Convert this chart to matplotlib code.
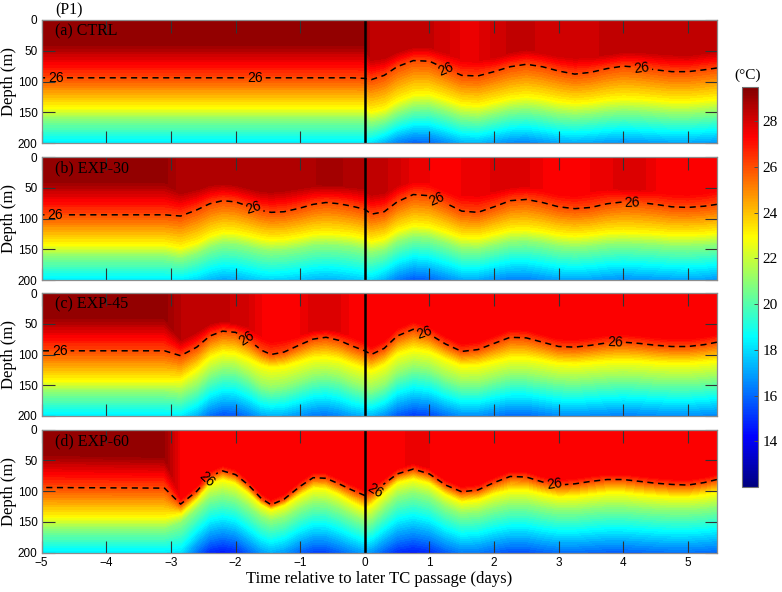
import numpy as np
import matplotlib
matplotlib.use("Agg")
import matplotlib.pyplot as plt
from matplotlib.colors import LinearSegmentedColormap, Normalize
from matplotlib.cm import ScalarMappable

# ---------------- data ----------------
# time nodes (days relative to later TC passage)
T = [-5.0, -3.1, -2.85, -2.6, -2.4, -2.2, -2.0, -1.8, -1.6, -1.45,
     -1.25, -1.0, -0.8, -0.6, -0.4, -0.2, 0.0, 0.1, 0.3, 0.5,
     0.75, 1.0, 1.25, 1.5, 1.75, 2.0, 2.25, 2.5, 2.75, 3.0,
     3.25, 3.5, 3.75, 4.0, 4.25, 4.5, 4.75, 5.0, 5.25, 5.45]

ISO_26 = 26.0     # dashed isotherm
ISO_23 = 23.0     # yellow isotherm
ISO_21 = 21.0     # green isotherm
BOTTOM = 200.0

# (a) CTRL
D26_A = [94, 94, 94, 94, 94, 94, 94, 94, 94, 94,
         94, 94, 94, 94, 94, 94, 95, 97, 90, 76,
         66, 67, 79, 90, 91, 84, 76, 72, 76, 83,
         88, 85, 79, 75, 77, 81, 84, 84, 81, 78]
D23_A = [141, 141, 141, 141, 141, 141, 141, 141, 141, 141,
         141, 141, 141, 141, 141, 141, 141, 148, 143, 130,
         120, 119, 127, 136, 138, 132, 126, 123, 126, 131,
         134, 132, 128, 126, 127, 129, 131, 131, 129, 127]
D21_A = [160, 160, 160, 160, 160, 160, 160, 160, 160, 160,
         160, 160, 160, 160, 160, 160, 160, 166, 161, 150,
         141, 140, 147, 156, 158, 152, 146, 144, 147, 152,
         154, 152, 149, 147, 148, 150, 152, 152, 150, 148]
T200_A = [18.2, 18.2, 18.2, 18.2, 18.2, 18.2, 18.2, 18.2, 18.2, 18.2,
          18.2, 18.2, 18.2, 18.2, 18.2, 18.2, 18.2, 18.0, 17.2, 16.3,
          15.8, 15.9, 16.5, 17.2, 17.3, 16.9, 16.5, 16.4, 16.7, 17.0,
          17.1, 17.0, 16.8, 16.7, 16.8, 16.9, 17.0, 17.0, 16.9, 16.8]
SST_A = [29.1, 29.1, 29.1, 29.1, 29.1, 29.1, 29.1, 29.1, 29.1, 29.1,
         29.1, 29.1, 29.1, 29.1, 29.1, 29.1, 29.1, 28.3, 28.3, 28.3,
         28.3, 28.3, 28.1, 27.7, 27.7, 28.1, 28.3, 28.3, 28.2, 28.1,
         28.0, 28.1, 28.4, 28.5, 28.5, 28.5, 28.4, 28.4, 28.3, 28.3]
MLD_A = [40, 40, 40, 40, 40, 40, 40, 40, 40, 40,
         40, 40, 40, 40, 40, 40, 40, 65, 62, 52,
         44, 44, 52, 64, 66, 60, 52, 48, 52, 58,
         62, 60, 55, 50, 50, 52, 55, 56, 54, 52]

# (b) EXP-30
D26_B = [94, 94, 96, 86, 76, 71, 73, 80, 87, 90,
         89, 83, 77, 74, 76, 80, 85, 93, 89, 73,
         61, 63, 75, 88, 90, 81, 71, 69, 74, 81,
         84, 82, 76, 73, 74, 77, 81, 82, 80, 77]
D23_B = [141, 141, 146, 138, 127, 121, 122, 126, 131, 133,
         132, 128, 124, 123, 124, 126, 130, 136, 131, 118,
         110, 112, 120, 129, 130, 124, 118, 117, 120, 125,
         127, 125, 122, 121, 122, 123, 125, 125, 124, 122]
D21_B = [160, 160, 164, 156, 146, 140, 141, 145, 150, 152,
         151, 147, 143, 142, 143, 145, 149, 155, 150, 137,
         129, 131, 139, 148, 149, 143, 137, 136, 139, 144,
         146, 144, 141, 140, 141, 142, 144, 144, 143, 141]
T200_B = [18.2, 18.2, 18.2, 17.8, 17.3, 17.0, 17.1, 17.4, 17.7, 17.8,
          17.7, 17.5, 17.3, 17.2, 17.3, 17.5, 17.7, 17.9, 17.2, 16.2,
          15.6, 15.8, 16.4, 17.0, 17.0, 16.6, 16.3, 16.3, 16.6, 16.9,
          17.0, 16.9, 16.7, 16.6, 16.7, 16.8, 16.9, 17.0, 16.9, 16.7]
SST_B = [29.1, 29.1, 28.6, 28.6, 28.6, 28.6, 28.6, 28.6, 28.6, 28.6,
         28.6, 28.6, 28.7, 28.9, 28.8, 28.6, 28.5, 28.4, 28.3, 28.1,
         27.6, 27.5, 27.5, 27.5, 27.6, 27.8, 28.0, 27.8, 27.5, 27.5,
         27.5, 27.5, 27.6, 28.0, 27.9, 27.5, 27.5, 27.5, 27.5, 27.5]
MLD_B = [40, 40, 58, 52, 45, 43, 45, 50, 55, 56,
         54, 50, 46, 44, 45, 48, 52, 60, 58, 45,
         40, 42, 52, 62, 62, 55, 47, 47, 52, 58,
         60, 56, 52, 50, 52, 55, 57, 58, 56, 52]

# (c) EXP-45
D26_C = [94, 94, 102, 88, 70, 62, 64, 76, 93, 100,
         96, 84, 75, 72, 77, 86, 94, 100, 90, 70,
         59, 67, 83, 95, 92, 82, 72, 73, 80, 87,
         88, 85, 81, 80, 82, 85, 87, 87, 84, 80]
D23_C = [141, 141, 140, 122, 103, 95, 97, 106, 116, 120,
         118, 110, 104, 103, 106, 114, 121, 125, 115, 98,
         90, 94, 106, 117, 116, 110, 104, 104, 108, 113,
         114, 112, 110, 109, 110, 112, 113, 113, 111, 109]
D21_C = [160, 160, 163, 150, 132, 123, 124, 135, 150, 154,
         151, 142, 135, 133, 137, 146, 153, 157, 148, 130,
         120, 124, 137, 146, 146, 139, 133, 133, 137, 141,
         142, 140, 138, 137, 138, 140, 141, 141, 139, 137]
T200_C = [18.2, 18.2, 18.2, 17.2, 16.0, 15.5, 15.6, 16.2, 17.0, 17.2,
          17.1, 16.6, 16.2, 16.1, 16.4, 16.9, 17.2, 17.3, 16.6, 15.6,
          15.1, 15.3, 16.0, 16.6, 16.6, 16.2, 15.9, 15.9, 16.2, 16.5,
          16.6, 16.5, 16.4, 16.3, 16.4, 16.5, 16.6, 16.6, 16.5, 16.4]
SST_C = [29.1, 29.1, 28.5, 28.4, 28.3, 28.3, 28.2, 28.0, 27.5, 27.4,
         27.4, 27.5, 27.9, 27.9, 27.8, 27.4, 27.4, 27.4, 27.4, 27.4,
         27.4, 27.4, 27.4, 27.4, 27.4, 27.4, 27.4, 27.4, 27.4, 27.4,
         27.4, 27.4, 27.4, 27.4, 27.4, 27.4, 27.4, 27.4, 27.4, 27.4]
MLD_C = [40, 40, 75, 62, 50, 45, 48, 55, 70, 78,
         75, 68, 60, 58, 62, 70, 78, 86, 76, 56,
         45, 53, 69, 81, 78, 68, 58, 59, 66, 73,
         74, 71, 67, 66, 68, 71, 73, 73, 70, 66]

# (d) EXP-60
D26_D = [94, 95, 121, 100, 76, 67, 73, 90, 112, 122,
         113, 92, 78, 79, 88, 98, 107, 103, 88, 72,
         64, 72, 90, 101, 98, 86, 76, 77, 85, 90,
         88, 84, 81, 81, 84, 87, 89, 90, 86, 81]
D23_D = [141, 141, 136, 112, 87, 80, 86, 102, 121, 129,
         122, 105, 94, 95, 104, 116, 127, 121, 102, 85,
         79, 86, 104, 116, 113, 103, 97, 97, 103, 108,
         107, 104, 101, 101, 104, 106, 108, 108, 105, 101]
D21_D = [160, 160, 150, 128, 110, 105, 110, 124, 140, 147,
         142, 127, 118, 119, 127, 138, 148, 145, 126, 108,
         101, 108, 125, 136, 134, 126, 121, 121, 126, 130,
         130, 127, 125, 125, 127, 129, 130, 130, 128, 125]
T200_D = [18.2, 18.2, 18.0, 16.0, 14.8, 14.5, 14.8, 15.8, 16.8, 17.2,
          16.8, 15.8, 15.3, 15.3, 15.8, 16.4, 16.9, 16.7, 15.7, 14.9,
          14.6, 14.9, 15.7, 16.3, 16.2, 15.8, 15.5, 15.5, 15.8, 16.0,
          16.0, 15.9, 15.8, 15.8, 15.9, 16.0, 16.1, 16.1, 16.0, 15.9]
SST_D = [29.1, 29.0, 27.4, 27.4, 27.4, 27.4, 27.4, 27.4, 27.4, 27.4,
         27.4, 27.4, 27.4, 27.4, 27.4, 27.4, 27.4, 27.4, 27.4, 27.4,
         27.6, 27.5, 27.4, 27.4, 27.4, 27.4, 27.4, 27.4, 27.4, 27.4,
         27.4, 27.4, 27.4, 27.4, 27.4, 27.4, 27.4, 27.4, 27.4, 27.4]
MLD_D = [40, 45, 111, 90, 66, 57, 63, 80, 102, 112,
         103, 82, 68, 69, 78, 88, 97, 93, 78, 62,
         54, 62, 80, 91, 88, 76, 66, 67, 75, 80,
         78, 74, 71, 71, 74, 77, 79, 80, 76, 71]

PANEL_TITLES = ["(a) CTRL", "(b) EXP-30", "(c) EXP-45", "(d) EXP-60"]
LABEL_TIMES = [[-4.78, -1.70, 1.26, 4.28],
               [-4.79, -1.73, 1.12, 4.14],
               [-4.72, -1.83, 0.92, 3.87],
               [-2.44, 0.15, 2.93]]
XTICKS = [-5, -4, -3, -2, -1, 0, 1, 2, 3, 4, 5]
YTICKS = [0, 50, 100, 150, 200]
CBTICKS = [14, 16, 18, 20, 22, 24, 26, 28]
VMIN, VMAX = 12.0, 29.5

# ---------------- styling ----------------
SERIF = "Liberation Serif"
SANS = "Liberation Sans"
plt.rcParams["font.family"] = [SANS, "DejaVu Sans"]

mjet = LinearSegmentedColormap.from_list(
    "mjet", [(0.0, (0, 0, 0.5)), (0.125, (0, 0, 1)), (0.375, (0, 1, 1)),
             (0.625, (1, 1, 0)), (0.875, (1, 0, 0)), (1.0, (0.5, 0, 0))], N=256)
norm = Normalize(VMIN, VMAX)
levels = np.arange(VMIN, VMAX + 0.01, 0.25)

W, H = 782, 592
fig = plt.figure(figsize=(W / 100, H / 100), dpi=100)

ax_left = 41.7 / W
ax_w = (717 - 41.7) / W
ax_h = 123 / H
bottoms_px = [143, 280, 416, 552.7]

panels = [(SST_A, MLD_A, D26_A, D23_A, D21_A, T200_A),
          (SST_B, MLD_B, D26_B, D23_B, D21_B, T200_B),
          (SST_C, MLD_C, D26_C, D23_C, D21_C, T200_C),
          (SST_D, MLD_D, D26_D, D23_D, D21_D, T200_D)]

t = np.asarray(T, float)
n = len(t)
for k, (sst, mld, d26, d23, d21, t200) in enumerate(panels):
    ax = fig.add_axes([ax_left, 1 - bottoms_px[k] / H, ax_w, ax_h])
    X = np.tile(t, (6, 1))
    Y = np.vstack([np.zeros(n), mld, d26, d23, d21,
                   np.full(n, BOTTOM)]).astype(float)
    Z = np.vstack([sst, sst, np.full(n, ISO_26), np.full(n, ISO_23),
                   np.full(n, ISO_21), t200]).astype(float)
    ax.contourf(X, Y, Z, levels=levels, cmap=mjet, norm=norm)
    cs = ax.contour(X, Y, Z, levels=[ISO_26], colors="k",
                    linewidths=1.1, linestyles=[(0, (4, 3))])
    pos = [(lt, float(np.interp(lt, t, d26))) for lt in LABEL_TIMES[k]]
    lbls = ax.clabel(cs, manual=pos, inline=True, fmt="%d", fontsize=10,
                     inline_spacing=3)
    for tx in lbls:
        tx.set_fontfamily(SANS)
    ax.axvline(0, color="k", lw=1.8, zorder=5)

    ax.set_xlim(-5, 5.45)
    ax.set_ylim(BOTTOM, 0)
    ax.set_xticks(XTICKS)
    ax.set_yticks(YTICKS)
    ax.tick_params(direction="in", length=9, width=0.8, color="0.2",
                   top=True, right=True, labelsize=8.5, pad=3)
    for s in ax.spines.values():
        s.set_color("0.55")
        s.set_linewidth(0.9)
        s.set_zorder(6)
    if k < 3:
        ax.tick_params(labelbottom=False)
    else:
        ax.set_xlabel("Time relative to later TC passage (days)",
                      fontfamily=SERIF, fontsize=12)
        ax.xaxis.set_label_coords(0.5, -0.15)
        ax.xaxis.label.set_va("top")
    ax.set_ylabel("Depth (m)", fontfamily=SERIF, fontsize=12)
    ax.yaxis.set_label_coords(-0.036, 0.5)
    ax.text(0.0197, 0.905, PANEL_TITLES[k], transform=ax.transAxes,
            ha="left", va="center", fontfamily=SERIF, fontsize=11.5, zorder=7)

fig.text(55 / W, 1 - 10 / H, "(P1)", ha="left", va="center",
         fontfamily=SERIF, fontsize=11.5)

cax = fig.add_axes([741.7 / W, 1 - 487 / H, 16.6 / W, 400.3 / H])
sm = ScalarMappable(norm=norm, cmap=mjet)
cb = fig.colorbar(sm, cax=cax, ticks=CBTICKS)
cb.outline.set_edgecolor("0.45")
cb.outline.set_linewidth(0.8)
cax.tick_params(direction="in", length=3, width=0.7, color="0.3", labelsize=11, pad=3)
for lab in cax.get_yticklabels():
    lab.set_fontfamily(SERIF)
fig.text(748 / W, 1 - 75 / H, "(\u00b0C)", ha="center", va="center",
         fontfamily=SERIF, fontsize=11)

fig.savefig("out.png", dpi=100)
